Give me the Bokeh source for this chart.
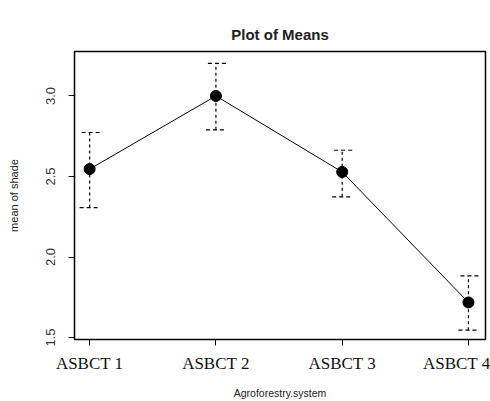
from bokeh.plotting import figure
from bokeh.models import ColumnDataSource, Whisker, TeeHead, FixedTicker, Range1d, Title
from bokeh.embed import file_html
from bokeh.resources import INLINE

categories = ["ASBCT 1", "ASBCT 2", "ASBCT 3", "ASBCT 4"]
means = [2.546, 3.0, 2.528, 1.718]
upper = [2.773, 3.202, 2.663, 1.883]
lower = [2.307, 2.79, 2.374, 1.546]
y_ticks = [1.5, 2.0, 2.5, 3.0]
y_tick_labels = ["1.5", "2.0", "2.5", "3.0"]
title_text = "Plot of Means"

xpos = list(range(1, len(categories) + 1))
src = ColumnDataSource(dict(x=xpos, m=means, up=upper, lo=lower))

p = figure(width=490, height=401, output_backend="svg", toolbar_location=None,
           x_range=Range1d(0.88, 4.135), y_range=Range1d(1.488, 3.276),
           min_border_left=74, min_border_right=5, min_border_top=49, min_border_bottom=61)

# spacer panel next to the frame
p.title.text = " "
p.title.text_font_size = "2px"
p.title.standoff = 10

main_title = Title(text=title_text, align="center", text_font="Liberation Sans",
                   text_font_size="15px", text_font_style="bold",
                   text_color="#222222", standoff=18)
p.add_layout(main_title, "above")

p.outline_line_color = "black"
p.outline_line_width = 1.5
p.background_fill_color = "white"
p.border_fill_color = "white"
p.xgrid.visible = False
p.ygrid.visible = False

p.xaxis.ticker = FixedTicker(ticks=xpos)
p.xaxis.major_label_overrides = {i + 1: c for i, c in enumerate(categories)}
p.xaxis.major_label_text_font = "Liberation Serif"
p.xaxis.major_label_text_font_size = "17px"
p.xaxis.major_label_text_color = "#111111"
p.xaxis.major_label_standoff = 8
p.xaxis.axis_label = "Agroforestry.system"
p.xaxis.axis_label_text_font = "Liberation Sans"
p.xaxis.axis_label_text_font_size = "10.5px"
p.xaxis.axis_label_text_font_style = "normal"
p.xaxis.axis_label_text_color = "#222222"
p.xaxis.axis_label_standoff = 11

p.yaxis.ticker = FixedTicker(ticks=y_ticks)
p.yaxis.major_label_overrides = {t: s for t, s in zip(y_ticks, y_tick_labels)}
p.yaxis.major_label_orientation = "vertical"
p.yaxis.major_label_text_font = "Liberation Sans"
p.yaxis.major_label_text_font_size = "13px"
p.yaxis.major_label_text_color = "#333333"
p.yaxis.major_label_standoff = 13
p.yaxis.axis_label = "mean of shade"
p.yaxis.axis_label_text_font = "Liberation Sans"
p.yaxis.axis_label_text_font_size = "11px"
p.yaxis.axis_label_text_font_style = "normal"
p.yaxis.axis_label_text_color = "#222222"
p.yaxis.axis_label_standoff = 24

for ax in (p.xaxis, p.yaxis):
    ax.axis_line_color = None
    ax.major_tick_out = 6
    ax.major_tick_in = 0
    ax.minor_tick_line_color = None
    ax.major_tick_line_color = "black"

p.line("x", "m", source=src, line_color="black", line_width=1)

w = Whisker(source=src, base="x", upper="up", lower="lo",
            line_color="black", line_width=1.2, line_dash="3 3",
            upper_head=TeeHead(size=20, line_color="black", line_width=1.2, line_dash="4 3"),
            lower_head=TeeHead(size=20, line_color="black", line_width=1.2, line_dash="4 3"))
p.add_layout(w)

p.scatter("x", "m", source=src, size=11, color="black")

open("out.html", "w").write(file_html(p, INLINE))
